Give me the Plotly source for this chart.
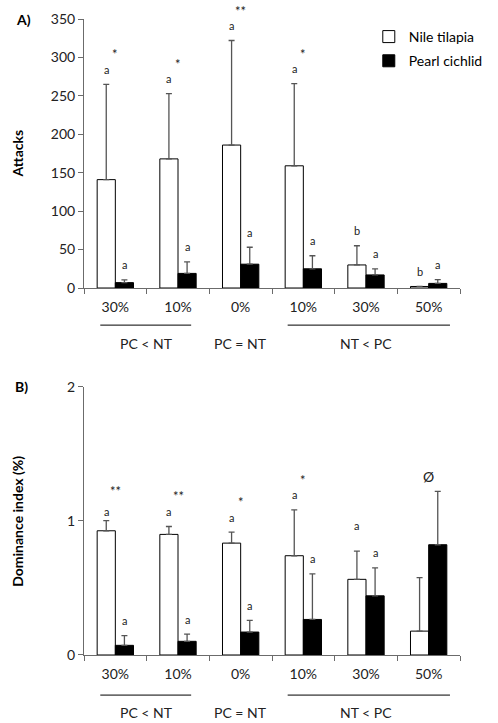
import plotly.graph_objects as go
from plotly.subplots import make_subplots

# ---------------- data ----------------
categories = ["30%", "10%", "0%", "10%", "30%", "50%"]
series_names = ["Nile tilapia", "Pearl cichlid"]

attacks_nt = [141, 168, 186, 159, 30, 2]
attacks_nt_err = [124, 85, 136, 107, 25, 0]
attacks_pc = [7, 19, 31, 25, 17, 6]
attacks_pc_err = [3.5, 15, 22, 17, 8, 5]

dom_nt = [0.926, 0.899, 0.834, 0.740, 0.564, 0.178]
dom_nt_err = [0.076, 0.059, 0.082, 0.342, 0.211, 0.399]
dom_pc = [0.072, 0.102, 0.171, 0.265, 0.441, 0.822]
dom_pc_err = [0.072, 0.054, 0.087, 0.339, 0.208, 0.398]

attacks_letters_nt = ["a", "a", "a", "a", "b", "b"]
attacks_letters_pc = ["a", "a", "a", "a", "a", "a"]
attacks_stars = ["*", "*", "**", "*", "", ""]

dom_letters_nt = ["a", "a", "a", "a", "a", ""]
dom_letters_pc = ["a", "a", "a", "a", "a", ""]
dom_stars = ["**", "**", "*", "*", "", "Ø"]

groups = ["PC < NT", "PC = NT", "NT < PC"]
group_spans = [(0, 1), (2, 2), (3, 5)]

# ---------------- layout constants ----------------
W, H = 498, 723
ML, MR, MT, MB = 84, 10, 15, 68
PW = W - ML - MR
PH = H - MT - MB
FONT = "Lato, 'Open Sans', sans-serif"
AXC = "#6b6b6b"
TXT = "#222222"
BARGAP = 0.42
OFF = (1 - BARGAP) / 4  # centre offset of each bar in a group
GROUP_LINE_PAD = {"PC < NT": (-0.24, 0.21), "NT < PC": (-0.25, 0.34)}

domA = [(H - MB - 285.7) / PH, 1.0]
domB = [0.0, (H - MB - 385) / PH]

fig = make_subplots(rows=2, cols=1, vertical_spacing=0.1)
fig.update_yaxes(domain=domA, row=1, col=1)
fig.update_yaxes(domain=domB, row=2, col=1)

xs = list(range(len(categories)))
err_style = dict(type="data", symmetric=False, color="#555555", thickness=1.3, width=3)

def add_pair(row, nt, nt_err, pc, pc_err, show):
    fig.add_trace(go.Bar(x=xs, y=nt, name=series_names[0], marker=dict(color="white", line=dict(color="black", width=1)),
                         error_y=dict(array=nt_err, arrayminus=[0] * len(nt), **err_style),
                         showlegend=show, legendgroup="nt"), row=row, col=1)
    fig.add_trace(go.Bar(x=xs, y=pc, name=series_names[1], marker=dict(color="black", line=dict(color="black", width=1)),
                         error_y=dict(array=pc_err, arrayminus=[0] * len(pc), **err_style),
                         showlegend=show, legendgroup="pc"), row=row, col=1)

add_pair(1, attacks_nt, attacks_nt_err, attacks_pc, attacks_pc_err, True)
add_pair(2, dom_nt, dom_nt_err, dom_pc, dom_pc_err, False)

annotations = []
shapes = []

def add_marks(xref, yref, nt, nt_err, pc, pc_err, lnt, lpc, stars, shift_over=None):
    shift_over = shift_over or {}
    for i in xs:
        top_nt = nt[i] + nt_err[i]
        top_pc = pc[i] + pc_err[i]
        if lnt[i]:
            annotations.append(dict(x=i - OFF, y=top_nt, xref=xref, yref=yref, text=lnt[i], showarrow=False,
                                    xanchor="center", yanchor="middle", yshift=shift_over.get(("nt", i), 15),
                                    font=dict(size=11, color=TXT, family=FONT)))
        if lpc[i]:
            annotations.append(dict(x=i + OFF, y=top_pc, xref=xref, yref=yref, text=lpc[i], showarrow=False,
                                    xanchor="center", yanchor="middle", yshift=shift_over.get(("pc", i), 15),
                                    font=dict(size=11, color=TXT, family=FONT)))
        if stars[i]:
            base = max(top_nt, top_pc)
            is_star = "*" in stars[i]
            annotations.append(dict(x=i, y=base, xref=xref, yref=yref, text=stars[i], showarrow=False,
                                    xanchor="center", yanchor="middle", yshift=shift_over.get(("s", i), 30),
                                    font=dict(size=13 if is_star else 14, color=TXT, family=FONT)))

add_marks("x", "y", attacks_nt, attacks_nt_err, attacks_pc, attacks_pc_err,
          attacks_letters_nt, attacks_letters_pc, attacks_stars)
add_marks("x2", "y2", dom_nt, dom_nt_err, dom_pc, dom_pc_err,
          dom_letters_nt, dom_letters_pc, dom_stars,
          shift_over={("nt", 0): 9, ("nt", 4): 26, ("s", 5): 15})

# group lines & labels
for (xref, ydref, line_px, lab_px, dh) in [("x", "y domain", 37.3, 55.5, 270.4), ("x2", "y2 domain", 40.3, 57.3, 269.7)]:
    for name, (a, b) in zip(groups, group_spans):
        if name in GROUP_LINE_PAD:
            p0, p1 = GROUP_LINE_PAD[name]
            shapes.append(dict(type="line", xref=xref, yref=ydref, x0=a + p0, x1=b + p1,
                               y0=-line_px / dh, y1=-line_px / dh, line=dict(color="black", width=1)))
        annotations.append(dict(x=(a + b) / 2, y=-lab_px / dh,
                                xref=xref, yref=ydref, text=name, showarrow=False, xanchor="center", yanchor="middle",
                                font=dict(size=14, color=TXT, family=FONT)))

# panel labels & y titles
annotations.append(dict(x=-(ML - 19) / PW, y=1.0, xref="paper", yref="y domain", text="<b>A)</b>", showarrow=False,
                        xanchor="center", yanchor="middle", font=dict(size=14, color="black", family=FONT)))
annotations.append(dict(x=-(ML - 17) / PW, y=1.0, xref="paper", yref="y2 domain", text="<b>B)</b>", showarrow=False,
                        xanchor="center", yanchor="middle", font=dict(size=14, color="black", family=FONT)))
annotations.append(dict(x=-(ML - 13) / PW, y=0.5, xref="paper", yref="y domain", text="<b>Attacks</b>", showarrow=False,
                        xanchor="center", yanchor="middle", textangle=-90,
                        font=dict(size=14, color="black", family=FONT)))
annotations.append(dict(x=-(ML - 13) / PW, y=0.5, xref="paper", yref="y2 domain", text="<b>Dominance index (%)</b>",
                        showarrow=False, xanchor="center", yanchor="middle", textangle=-90,
                        font=dict(size=14, color="black", family=FONT)))

xaxis_style = dict(range=[-0.5, 5.5], tickmode="array", tickvals=xs, ticktext=categories,
                   ticks="outside", ticklen=6, tickcolor="rgba(0,0,0,0)",
                   minor=dict(tick0=0.5, dtick=1, ticks="outside", ticklen=5, tickcolor=AXC, tickwidth=1),
                   showline=True, linecolor=AXC, linewidth=1, showgrid=False, zeroline=False,
                   tickfont=dict(size=14, color=TXT, family=FONT), fixedrange=True)
fig.update_xaxes(**xaxis_style)

fig.update_yaxes(range=[0, 350], tickvals=[0, 50, 100, 150, 200, 250, 300, 350], row=1, col=1)
fig.update_yaxes(range=[0, 2], tickvals=[0, 1, 2], row=2, col=1)
fig.update_yaxes(ticks="outside", ticklen=5, tickcolor=AXC, showline=True, linecolor=AXC, linewidth=1,
                 showgrid=False, zeroline=False, tickfont=dict(size=14, color=TXT, family=FONT))

fig.update_layout(
    width=W, height=H, margin=dict(l=ML, r=MR, t=MT, b=MB),
    paper_bgcolor="white", plot_bgcolor="white",
    barmode="group", bargap=BARGAP, bargroupgap=0,
    annotations=annotations, shapes=shapes,
    legend=dict(x=(390 - ML) / PW, y=(H - MB - 17) / PH, xref="paper", yref="paper",
                xanchor="left", yanchor="top", bgcolor="rgba(0,0,0,0)", traceorder="grouped",
                font=dict(size=14, color="black", family=FONT), tracegroupgap=3, itemwidth=30),
    font=dict(family=FONT),
)

fig.write_html("out.html", config={"displayModeBar": False},
               post_script="document.body.style.margin='0';document.body.style.overflow='hidden';")
